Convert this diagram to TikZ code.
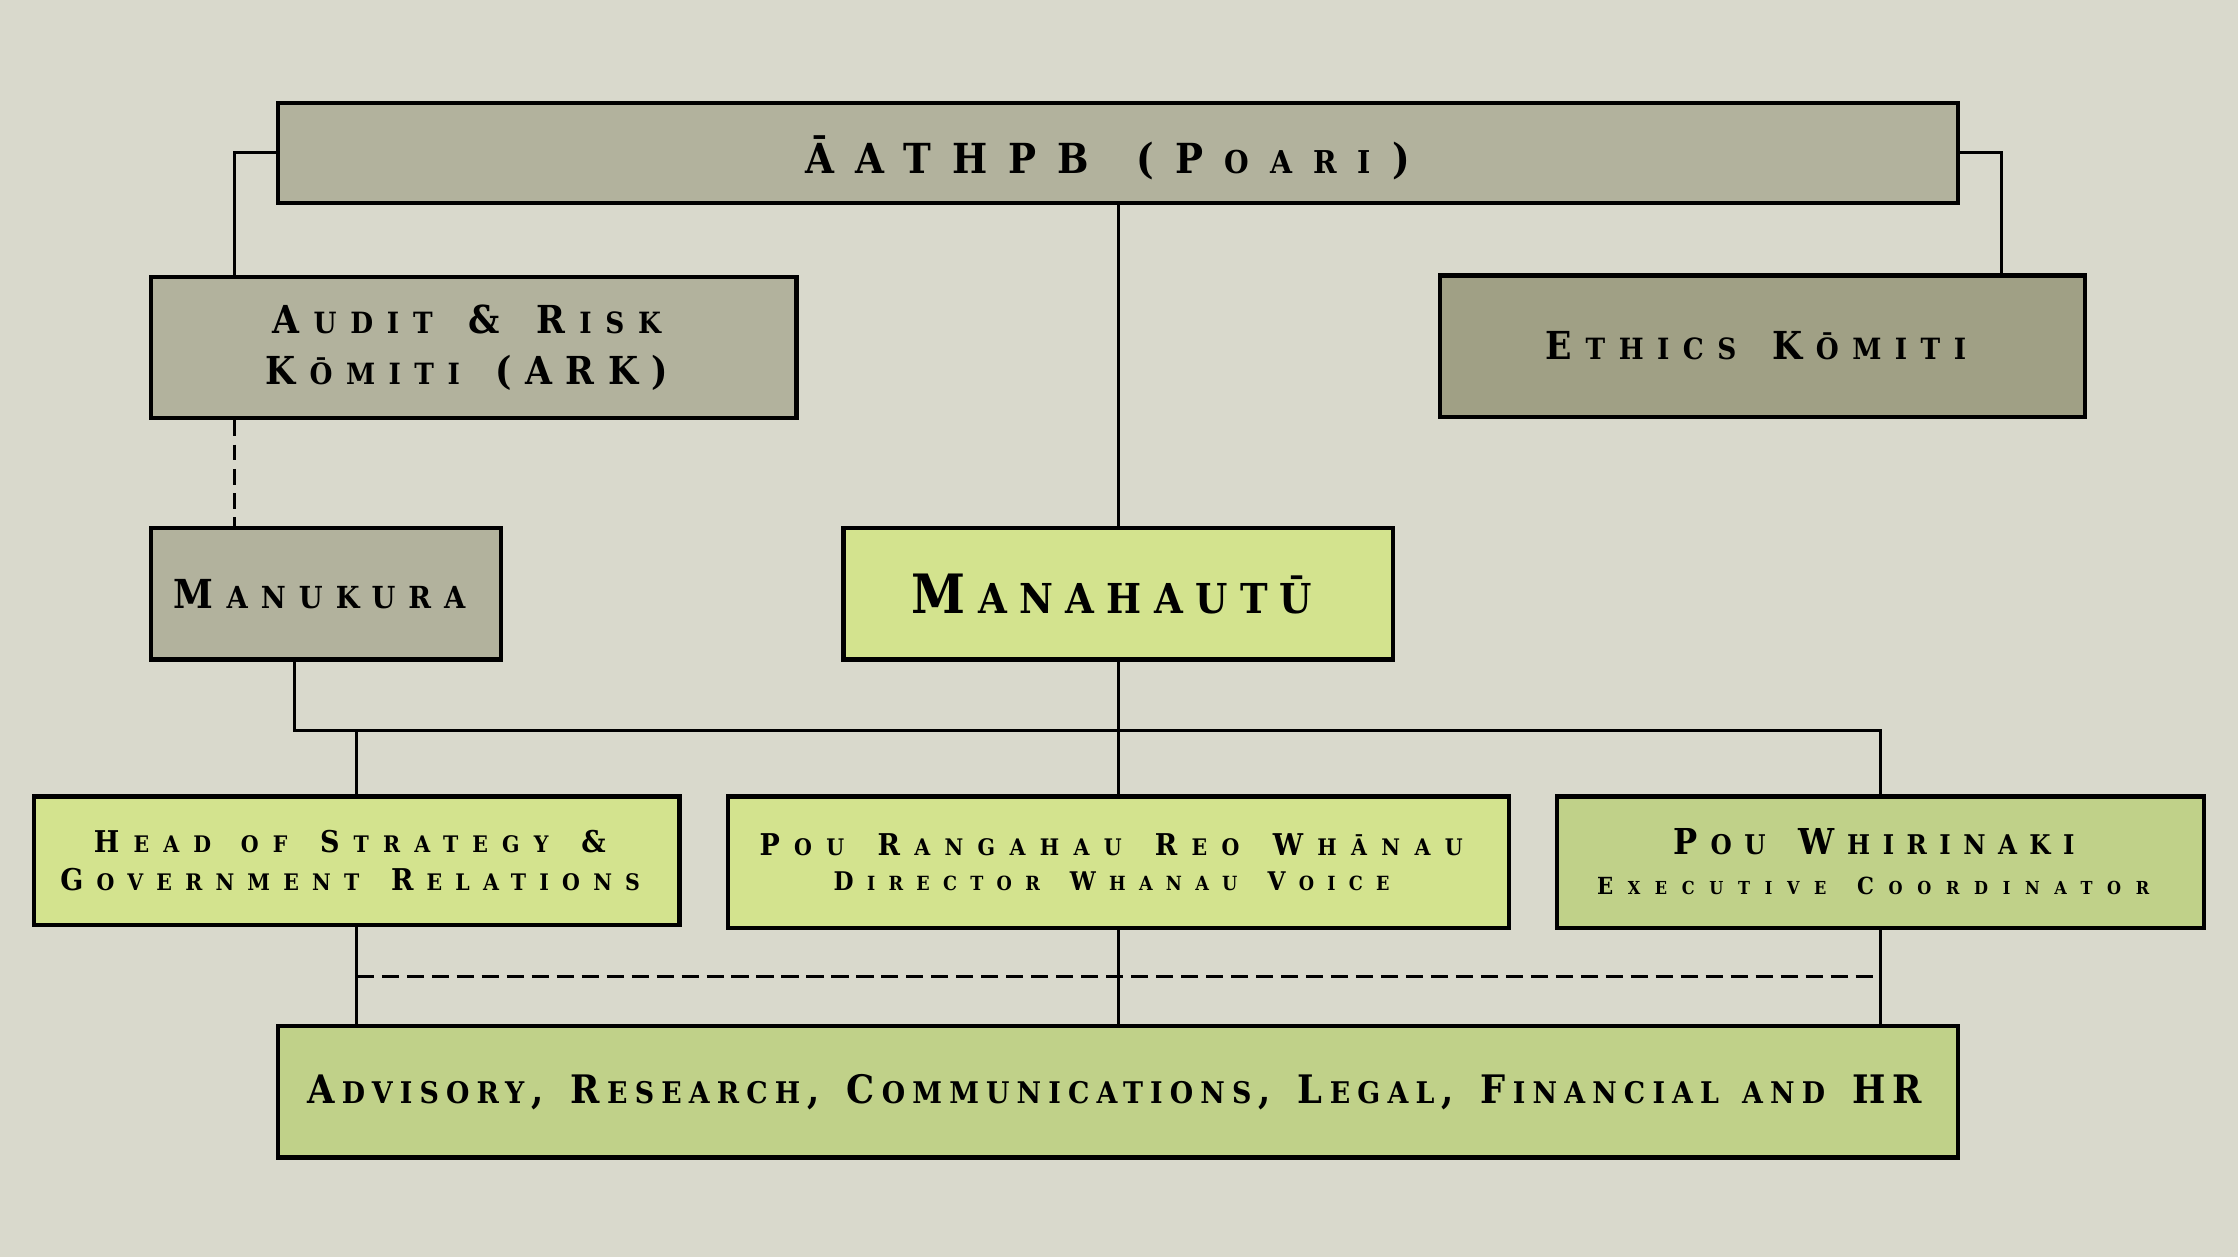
\documentclass[tikz,border=0pt]{standalone}
\usepackage{fontspec}
\newfontfamily\mf{DejaVu Serif Condensed}[WordSpace=1.4]
\newfontfamily\scf{DejaVu Serif Condensed}[Scale=0.76,WordSpace=1.4]
\def\lspk{0}\def\skls{0}
\newcommand\tr[2]{\pgfmathsetmacro\lspk{#1/100}\def\skls{#2}\addfontfeature{LetterSpace=#1}}
\newcommand\sk[1]{\kern\lspk em{\scf\bfseries\addfontfeature{LetterSpace=\skls}#1}}
\newcommand\tk{\kern\lspk em}
\newcommand\te{\kern\lspk em}
\definecolor{bgc}{RGB}{217,217,204}
\definecolor{greyA}{RGB}{178,178,157}
\definecolor{greyB}{RGB}{160,160,133}
\definecolor{grnA}{RGB}{211,227,142}
\definecolor{grnB}{RGB}{192,209,137}
\newcommand\fs[2]{\mf\bfseries\fontsize{#1}{#2}\selectfont}
\tikzset{
  box/.style={draw=black, line width=3pt, rectangle, inner sep=0pt, align=center, text=black},
  link/.style={draw=black, line width=2pt},
  vdlink/.style={draw=black, line width=2pt, dash pattern=on 11pt off 6pt},
  hdlink/.style={draw=black, line width=2.5pt, dash pattern=on 12pt off 5.5pt},
}
\begin{document}
\begin{tikzpicture}[x=1pt,y=-1pt]
\useasboundingbox (0,0) rectangle (1568,881);
\fill[bgc] (0,0) rectangle (1568,881);

\node[box, fill=greyA, minimum width=1177pt, minimum height=70pt, text height=33pt, text depth=4pt, font=\fs{29}{34}] (poari) at (783.5,107)
  {\tr{51}{67}ĀATHPB (P\sk{OARI}\tk)\te};
\node[box, fill=greyA, minimum width=452pt, minimum height=99pt, font=\fs{27}{36}] (audit) at (332,243.5)
  {{\tr{36}{47}A\sk{UDIT} \& R\sk{ISK}\te}\\{\tr{35}{46}K\sk{ŌMITI} (ARK)\te}};
\node[box, fill=greyB, minimum width=452pt, minimum height=99pt, font=\fs{27}{32}] (ethics) at (1235,242.5)
  {\tr{35}{46}E\sk{THICS} K\sk{ŌMITI}\te};
\node[box, fill=greyA, minimum width=245pt, minimum height=92pt, font=\fs{28}{32}] (manukura) at (228.5,416)
  {\tr{33}{43}M\sk{ANUKURA}\te};
\node[box, fill=grnA, minimum width=385pt, minimum height=92pt, font=\fs{38}{42}] (manahautu) at (783.5,416)
  {\tr{23}{30}M\sk{ANAHAUTŪ}\te};
\node[box, fill=grnA, minimum width=452pt, minimum height=90pt, font=\fs{21}{27}] (head) at (250,603)
  {{\tr{47}{62}H\sk{EAD OF} S\sk{TRATEGY} \&\te}\\{\tr{44}{58}G\sk{OVERNMENT} R\sk{ELATIONS}\te}};
\node[box, fill=grnA, minimum width=547pt, minimum height=92pt, font=\fs{21}{25}] (rangahau) at (783.5,604)
  {{\tr{48}{63}P\sk{OU} R\sk{ANGAHAU} R\sk{EO} W\sk{HĀNAU}\te}\\{\fs{18}{25}\tr{52}{68}D\sk{IRECTOR} W\sk{HANAU} V\sk{OICE}\te}};
\node[box, fill=grnB, minimum width=453pt, minimum height=92pt, font=\fs{25}{28}] (whirinaki) at (1317.5,604)
  {{\tr{35}{46}P\sk{OU} W\sk{HIRINAKI}\te}\\{\fs{16.5}{28}\tr{62}{82}E\sk{XECUTIVE} C\sk{OORDINATOR}\te}};
\node[box, fill=grnB, minimum width=1177pt, minimum height=92pt, font=\fs{27.5}{32}] (bottom) at (783.5,765)
  {\tr{18}{24}A\sk{DVISORY}\tk, R\sk{ESEARCH}\tk, C\sk{OMMUNICATIONS}\tk, L\sk{EGAL}\tk, F\sk{INANCIAL AND} HR\te};

\coordinate (bus) at (0,512);
\coordinate (dashy) at (0,684);

\draw[link] (poari.west) -| ([xshift=60pt]audit.north west);
\draw[link] (poari.east) -| ([xshift=-60pt]ethics.north east);
\draw[link] (poari.south) -- (manahautu.north);
\draw[vdlink] ([xshift=60pt]audit.south west) -- ([xshift=60pt]manukura.north west);
\draw[link] ([xshift=102pt]manukura.south west) |- (bus -| whirinaki.north) -- (whirinaki.north);
\draw[link] (manahautu.south) -- (rangahau.north);
\draw[link] (head.north |- bus) -- (head.north);
\draw[link] (head.south) -- (head.south |- bottom.north);
\draw[link] (rangahau.south) -- (bottom.north);
\draw[link] (whirinaki.south) -- (whirinaki.south |- bottom.north);
\draw[hdlink] (head.south |- dashy) -- (whirinaki.south |- dashy);
\end{tikzpicture}
\end{document}
